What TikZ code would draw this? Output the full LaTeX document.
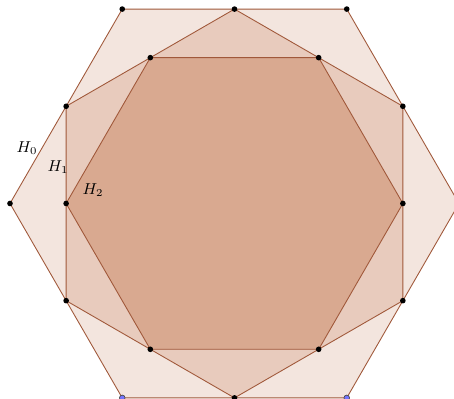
\documentclass[tikz,border=0pt]{standalone}
\usepackage{amsmath,amssymb}
\usepackage{xcolor}
\usepackage{tikz}
\usetikzlibrary{positioning, calc}

\definecolor{hexline}{HTML}{A0583A}
\definecolor{hzero}{HTML}{F3E5DE}
\definecolor{hone}{HTML}{E8CBBD}
\definecolor{htwo}{HTML}{D9A990}

\begin{document}
\begin{tikzpicture}[
    font=\small,
    hexside/.style={draw=hexline, line width=0.5pt, line join=round},
    vdot/.style={circle, fill=black, inner sep=0pt, minimum size=3.2pt},
    fdot/.style={circle, draw=black!70, fill=blue!55, inner sep=0pt, minimum size=3.2pt},
]
  % Frame of the picture
  \useasboundingbox (-4.69,-3.91) rectangle (4.39,4.07);
  % Vertices of the three hexagons
  \foreach \i in {0,...,5} {
    \coordinate (a\i) at (60*\i:4.49);
    \coordinate (b\i) at (30+60*\i:3.888);
    \coordinate (c\i) at (60*\i:3.3675);
  }
  % H_0
  \filldraw[hexside, fill=hzero] (a0) -- (a1) -- (a2) -- (a3) -- (a4) -- (a5) -- cycle;
  % H_1
  \filldraw[hexside, fill=hone] (b0) -- (b1) -- (b2) -- (b3) -- (b4) -- (b5) -- cycle;
  % H_2
  \filldraw[hexside, fill=htwo] (c0) -- (c1) -- (c2) -- (c3) -- (c4) -- (c5) -- cycle;
  % Points
  \foreach \i in {0,...,3} \node[vdot] (pa\i) at (a\i) {};
  \node[fdot] (pa4) at (a4) {};
  \node[fdot] (pa5) at (a5) {};
  \foreach \i in {0,...,5} \node[vdot] (pb\i) at (b\i) {};
  \foreach \i in {0,...,5} \node[vdot] (pc\i) at (c\i) {};
  % Labels
  \node (l0) at (-4.15,1.11) {$H_0$};
  \node (l1) at (-3.53,0.73) {$H_1$};
  \node (l2) at (-2.83,0.27) {$H_2$};
\end{tikzpicture}
\end{document}
